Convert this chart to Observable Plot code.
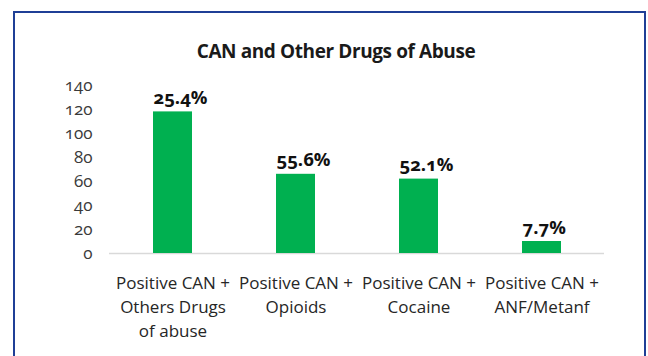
<!DOCTYPE html>
<html>
<head>
<meta charset="utf-8">
<script src="https://cdn.jsdelivr.net/npm/d3@7"></script>
<script src="https://cdn.jsdelivr.net/npm/@observablehq/plot@0.6"></script>
<style>
  html, body { margin: 0; padding: 0; background: #fff; }
  #wrap { position: relative; width: 648px; height: 356px; overflow: hidden; background: #fff; font-family: "Open Sans", sans-serif; }
  #frame { position: absolute; left: 13px; top: 11px; width: 633px; height: 420px; box-sizing: border-box; border: 2.5px solid #1f3f96; }
  #title { position: absolute; left: 0; width: 672px; top: 42px; text-align: center; font-size: 19px; line-height: 19px; font-weight: 700; color: #1a1a1a; letter-spacing: -0.4px; white-space: nowrap; }
  #chart { position: absolute; left: 0; top: 0; }
  #chart svg, #chart svg g, #chart svg text { font-variant-numeric: oldstyle-nums; }
</style>
</head>
<body>
<div id="wrap">
  <div id="frame"></div>
  <div id="chart"></div>
  <div id="title">CAN and Other Drugs of Abuse</div>
</div>
<script>
const categories = [
  "Positive CAN +\nOthers Drugs\nof abuse",
  "Positive CAN +\nOpioids",
  "Positive CAN +\nCocaine",
  "Positive CAN +\nANF/Metanf"
];
const values = [118, 66, 62, 10];
const valueLabels = ["25.4%", "55.6%", "52.1%", "7.7%"];
const yTicks = [0, 20, 40, 60, 80, 100, 120, 140];

const data = categories.map((c, i) => ({cat: c, value: values[i], label: valueLabels[i]}));

const chart = Plot.plot({
  width: 648,
  height: 356,
  marginLeft: 109,
  marginRight: 44,
  marginTop: 85,
  marginBottom: 103,
  style: {fontFamily: "'Open Sans', sans-serif", background: "transparent", color: "#404040"},
  x: {domain: categories, paddingInner: 0.685, paddingOuter: 0.3425, axis: null},
  y: {domain: [0, 140], axis: null},
  marks: [
    Plot.ruleY([0], {stroke: "#d9d9d9", strokeWidth: 1.5}),
    Plot.barY(data, {x: "cat", y: "value", fill: "#00b050"}),
    Plot.axisY({ticks: yTicks, tickSize: 0, tickPadding: 17, fontSize: 17, fontVariant: "oldstyle-nums", label: null, fill: "#3a3a3a"}),
    Plot.text(data, {x: "cat", y: 0, text: "cat", lineAnchor: "top", dy: 19, fontSize: 17, lineHeight: 1.39, fill: "#262626"}),
    Plot.text(data, {x: "cat", y: "value", text: "label", textAnchor: "start", lineAnchor: "bottom", dx: -19.5, dy: -8, fontSize: 18.5, fontWeight: 700, fill: "#111"})
  ]
});
document.getElementById("chart").appendChild(chart);
</script>
</body>
</html>
